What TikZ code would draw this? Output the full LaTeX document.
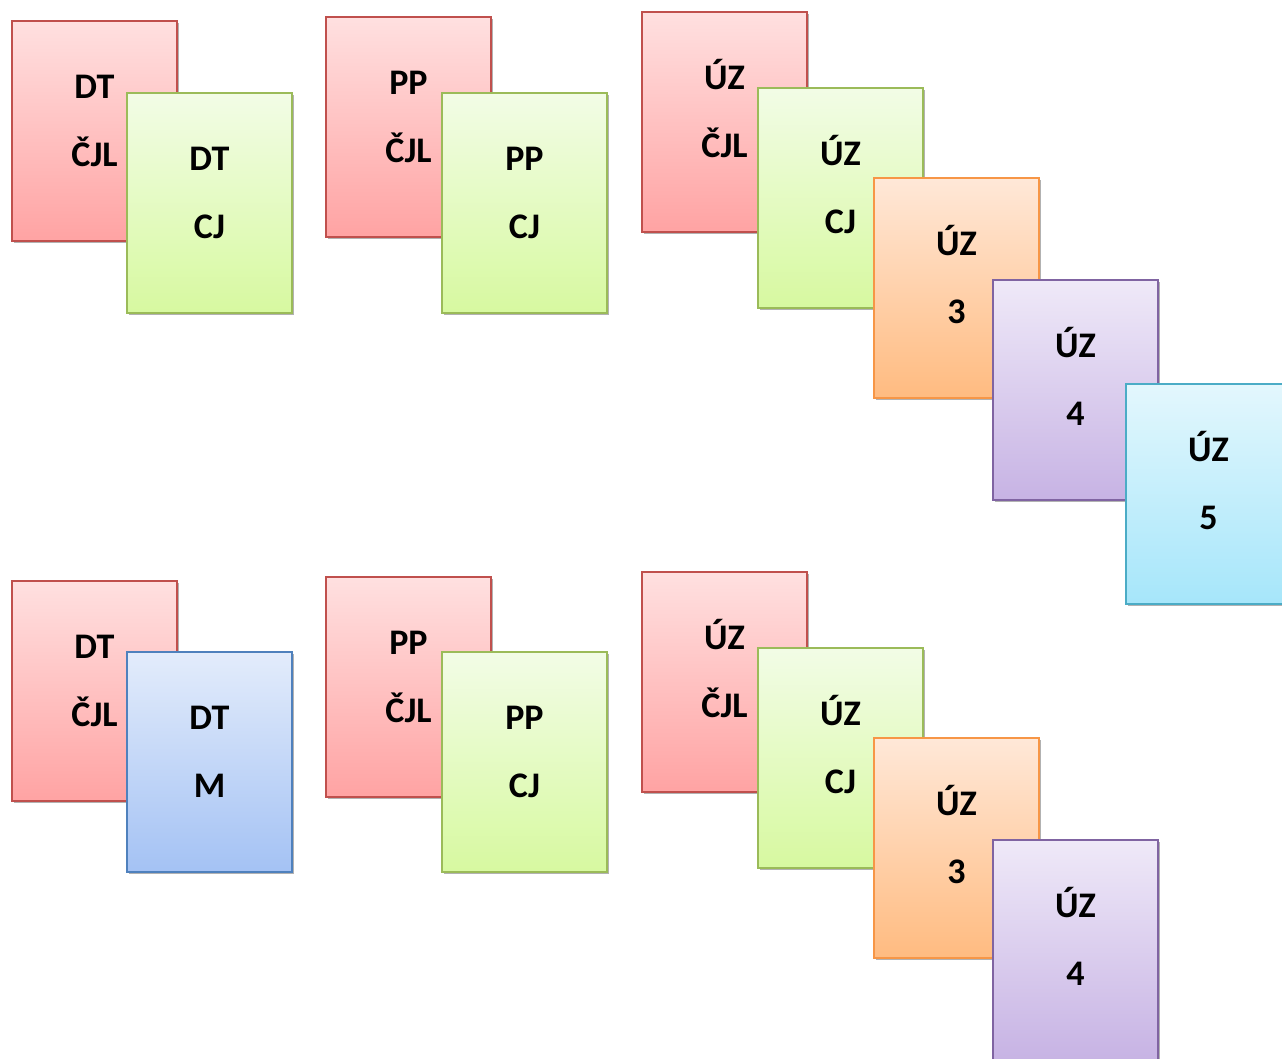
\documentclass[tikz,border=0pt]{standalone}
\usepackage{fontspec}
\setmainfont{Carlito}
\usetikzlibrary{shadows,calc}
\definecolor{redT}{HTML}{FFE0E0}\definecolor{redB}{HTML}{FFA3A3}\definecolor{redL}{HTML}{C0504D}
\definecolor{grnT}{HTML}{F2FCE6}\definecolor{grnB}{HTML}{D7F9A0}\definecolor{grnL}{HTML}{9BBB59}
\definecolor{orgT}{HTML}{FFE8D8}\definecolor{orgB}{HTML}{FFBB80}\definecolor{orgL}{HTML}{F79646}
\definecolor{purT}{HTML}{EFE9F8}\definecolor{purB}{HTML}{C7B3E4}\definecolor{purL}{HTML}{8064A2}
\definecolor{cyaT}{HTML}{E3F7FD}\definecolor{cyaB}{HTML}{A6E6FA}\definecolor{cyaL}{HTML}{4BACC6}
\definecolor{bluT}{HTML}{E3ECFB}\definecolor{bluB}{HTML}{A4C2F4}\definecolor{bluL}{HTML}{4F81BD}
\tikzset{
  card/.style={rectangle, anchor=north west, inner sep=0pt, outer sep=0pt,
    minimum width=123.75pt, minimum height=165pt, line width=1.2pt,
    drop shadow={shadow xshift=1.5pt, shadow yshift=-1.8pt, fill=black, opacity=0.3}},
  redcard/.style={card, draw=redL, top color=redT, bottom color=redB},
  grncard/.style={card, draw=grnL, top color=grnT, bottom color=grnB},
  orgcard/.style={card, draw=orgL, top color=orgT, bottom color=orgB},
  purcard/.style={card, draw=purL, top color=purT, bottom color=purB},
  cyacard/.style={card, draw=cyaL, top color=cyaT, bottom color=cyaB},
  blucard/.style={card, draw=bluL, top color=bluT, bottom color=bluB},
  lbl/.style={anchor=base, inner sep=0pt, font=\fontsize{27pt}{32pt}\selectfont\bfseries, text=black}
}
\newcommand\card[6]{%
  \node[#4] (#1) at (#2,#3) {};
  \node[lbl] (#1a) at ($(#1.north)+(0,77)$) {#5};
  \node[lbl] (#1b) at ($(#1.north)+(0,145)$) {#6};
}
\begin{document}
\begin{tikzpicture}[x=0.75pt,y=-0.75pt]
\clip (0,0) rectangle (1282,1058);
\fill[white] (0,0) rectangle (1282,1058);
% top row
\card{rA}{12}{21}{redcard}{DT}{ČJL}
\card{gA}{127}{93}{grncard}{DT}{CJ}
\card{rB}{326}{17}{redcard}{PP}{ČJL}
\card{gB}{442}{93}{grncard}{PP}{CJ}
\card{rC}{642}{12}{redcard}{ÚZ}{ČJL}
\card{gC}{758}{88}{grncard}{ÚZ}{CJ}
\card{oC}{874}{178}{orgcard}{ÚZ}{3}
\card{pC}{993}{280}{purcard}{ÚZ}{4}
\card{cC}{1126}{384}{cyacard}{ÚZ}{5}
% bottom row
\card{rD}{12}{581}{redcard}{DT}{ČJL}
\card{bD}{127}{652}{blucard}{DT}{M}
\card{rE}{326}{577}{redcard}{PP}{ČJL}
\card{gE}{442}{652}{grncard}{PP}{CJ}
\card{rF}{642}{572}{redcard}{ÚZ}{ČJL}
\card{gF}{758}{648}{grncard}{ÚZ}{CJ}
\card{oF}{874}{738}{orgcard}{ÚZ}{3}
\card{pF}{993}{840}{purcard}{ÚZ}{4}
\end{tikzpicture}
\end{document}
